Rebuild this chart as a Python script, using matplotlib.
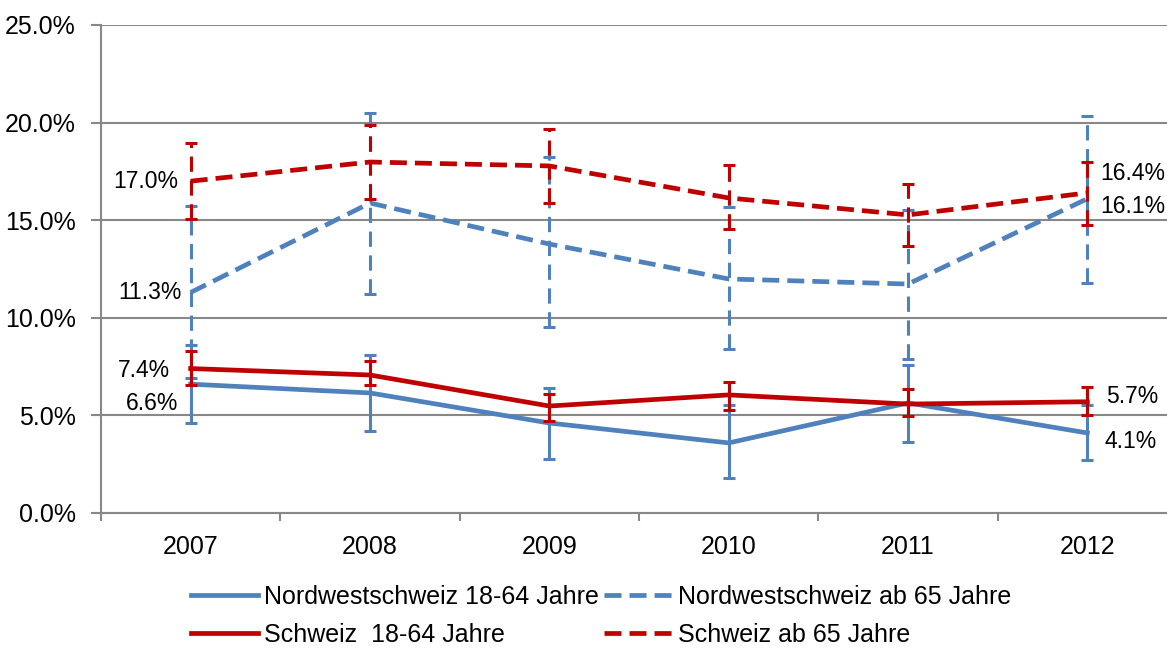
import matplotlib
matplotlib.use("Agg")
import matplotlib.pyplot as plt
import numpy as np

plt.rcParams['font.family'] = ['Liberation Sans', 'DejaVu Sans']

years = ['2007', '2008', '2009', '2010', '2011', '2012']

# Nordwestschweiz 18-64 Jahre
nw_young = [6.6, 6.15, 4.61, 3.59, 5.64, 4.1]
nw_young_lo = [4.61, 4.2, 2.77, 1.79, 3.64, 2.72]
nw_young_hi = [8.61, 8.09, 6.4, 5.53, 7.58, 5.53]

# Nordwestschweiz ab 65 Jahre
nw_old = [11.3, 15.88, 13.78, 11.99, 11.73, 16.1]
nw_old_lo = [6.92, 11.22, 9.53, 8.4, 7.89, 11.78]
nw_old_hi = [15.73, 20.49, 18.24, 15.68, 15.52, 20.34]

# Schweiz 18-64 Jahre
ch_young = [7.4, 7.07, 5.48, 6.05, 5.58, 5.7]
ch_young_lo = [6.56, 6.56, 4.71, 5.28, 4.97, 5.02]
ch_young_hi = [8.3, 7.79, 6.1, 6.71, 6.35, 6.45]

# Schweiz ab 65 Jahre
ch_old = [17.0, 17.98, 17.78, 16.14, 15.27, 16.4]
ch_old_lo = [15.06, 16.09, 15.88, 14.55, 13.68, 14.75]
ch_old_hi = [18.95, 19.88, 19.67, 17.83, 16.85, 17.98]

blue = '#4F81BD'
red = '#C00000'
grid = '#888888'
fs = 18

W, H = 1167, 649
fig = plt.figure(figsize=(W / 100, H / 100), dpi=100)
ax = fig.add_axes([101 / W, (H - 513) / H, (1177 - 101) / W, (513 - 25) / H])

x = np.arange(len(years))

series = [
    (nw_young, nw_young_lo, nw_young_hi, blue, '-', 'Nordwestschweiz 18-64 Jahre'),
    (nw_old, nw_old_lo, nw_old_hi, blue, '--', 'Nordwestschweiz ab 65 Jahre'),
    (ch_young, ch_young_lo, ch_young_hi, red, '-', 'Schweiz  18-64 Jahre'),
    (ch_old, ch_old_lo, ch_old_hi, red, '--', 'Schweiz ab 65 Jahre'),
]

handles = []
z = 3
for vals, lo, hi, col, ls, lab in series:
    v = np.array(vals)
    err = [v - np.array(lo), np.array(hi) - v]
    eb = ax.errorbar(x, v, yerr=err, fmt='none', ecolor=col, elinewidth=2.2,
                     capsize=4, capthick=2.2, zorder=z)
    if ls == '--':
        eb[2][0].set_linestyle((0, (5, 2.8)))
        ln, = ax.plot(x, v, color=col, lw=3.4, linestyle=(0, (3.6, 1.7)), label=lab,
                      zorder=z + 1, dash_capstyle='butt')
    else:
        ln, = ax.plot(x, v, color=col, lw=3.4, label=lab, zorder=z + 1)
    handles.append(ln)
    z += 2

ax.set_xlim(-0.5, len(years) - 0.5)
ax.set_ylim(0, 25)

ax.set_yticks(np.arange(0, 25.1, 5))
ax.set_yticklabels(['%.1f%%' % t for t in np.arange(0, 25.1, 5)])
ax.yaxis.grid(True, color=grid, lw=1.5)
ax.set_axisbelow(True)

ax.set_xticks(np.arange(-0.5, len(years), 1))
ax.set_xticklabels([])
ax.set_xticks(x, minor=True)
ax.set_xticklabels(years, minor=True)
ax.tick_params(axis='x', which='major', length=6, width=1.5, color=grid, direction='out')
ax.tick_params(axis='x', which='minor', length=0, pad=16, labelsize=fs)
ax.tick_params(axis='y', length=7, width=1.5, color=grid, pad=11, labelsize=fs)

for s in ['top', 'right']:
    ax.spines[s].set_visible(False)
for s in ['left', 'bottom']:
    ax.spines[s].set_color(grid)
    ax.spines[s].set_linewidth(1.5)

# data labels
labels = [
    (0, nw_young[0], '6.6%', -12, -19, 'right'),
    (0, nw_old[0], '11.3%', -9, 0, 'right'),
    (0, ch_young[0], '7.4%', -21, -2, 'right'),
    (0, ch_old[0], '17.0%', -12, 0, 'right'),
    (5, nw_young[5], '4.1%', 17, -9, 'left'),
    (5, nw_old[5], '16.1%', 13, -8, 'left'),
    (5, ch_young[5], '5.7%', 19, 5, 'left'),
    (5, ch_old[5], '16.4%', 13, 19, 'left'),
]
for xi, yi, txt, dx, dy, ha in labels:
    ax.annotate(txt, (xi, yi), xytext=(dx, dy), textcoords='offset pixels',
                ha=ha, va='center', fontsize=16.5, zorder=20)

# legend filled row by row like the original
order = [0, 2, 1, 3]
fig.legend(handles=[handles[i] for i in order], loc='center',
           bbox_to_anchor=(0.515, (H - 616) / H),
           ncol=2, frameon=False, fontsize=fs, handlelength=2.7, handletextpad=0.24,
           columnspacing=0.2, labelspacing=0.55)

fig.savefig('out.png', dpi=100)
